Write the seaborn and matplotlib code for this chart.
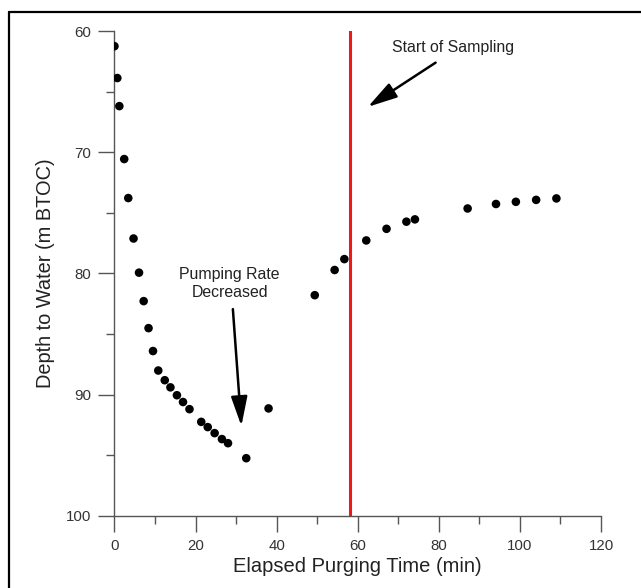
import matplotlib
matplotlib.use("Agg")
import matplotlib.pyplot as plt
import seaborn as sns
import pandas as pd
from matplotlib.ticker import MultipleLocator
from matplotlib.lines import Line2D

# ---- data ----
elapsed_min = [0.0, 0.7, 1.2, 2.4, 3.4, 4.7, 6.05, 7.2, 8.4, 9.5, 10.8, 12.4, 13.8,
               15.4, 16.9, 18.5, 21.4, 23.0, 24.7, 26.5, 28.0, 32.5, 38.0, 49.4,
               54.3, 56.7, 62.1, 67.1, 72.0, 74.1, 87.1, 94.1, 99.0, 104.0, 109.0]
depth_m = [61.24, 63.87, 66.19, 70.56, 73.78, 77.12, 79.94, 82.29, 84.52, 86.41,
           88.02, 88.82, 89.41, 90.06, 90.62, 91.21, 92.26, 92.69, 93.19, 93.68,
           94.02, 95.26, 91.15, 81.80, 79.72, 78.82, 77.28, 76.32, 75.73, 75.54,
           74.64, 74.27, 74.09, 73.93, 73.81]
sampling_start = 58.0
x_ticks = [0, 20, 40, 60, 80, 100, 120]
y_ticks = [60, 70, 80, 90, 100]
x_label = "Elapsed Purging Time (min)"
y_label = "Depth to Water (m BTOC)"
note_sampling = "Start of Sampling"
note_pumping = "Pumping Rate\nDecreased"

df = pd.DataFrame({"t": elapsed_min, "d": depth_m})

sns.set_style("ticks")
plt.rcParams["font.family"] = ["Liberation Sans", "DejaVu Sans"]

fig = plt.figure(figsize=(6.41, 5.88), dpi=100)
ax = fig.add_axes([0.1786, 0.1231, 0.9376 - 0.1786, 0.947 - 0.1231])

sns.scatterplot(data=df, x="t", y="d", ax=ax, color="black", s=38,
                edgecolor="none", zorder=3, legend=False)
ax.axvline(sampling_start, color="#ea1a1a", lw=2.2, zorder=2)

ax.set_xlim(0, 120)
ax.set_ylim(100, 60)
ax.set_xticks(x_ticks)
ax.set_yticks(y_ticks)
ax.xaxis.set_minor_locator(MultipleLocator(10))
ax.yaxis.set_minor_locator(MultipleLocator(5))

gray = "#555555"
for s in ["top", "right"]:
    ax.spines[s].set_visible(False)
for s in ["left", "bottom"]:
    ax.spines[s].set_color(gray)
    ax.spines[s].set_linewidth(1.0)
ax.spines["left"].set_zorder(1)
ax.tick_params(axis="both", which="major", length=11.5, width=1.0, color=gray,
               labelsize=10.8, labelcolor="#333333", direction="out", pad=5)
ax.tick_params(axis="both", which="minor", length=5.5, width=1.0, color=gray,
               direction="out")
ax.set_xlabel(x_label, fontsize=14.5, color="#222222", labelpad=3)
ax.set_ylabel(y_label, fontsize=14.4, color="#222222", labelpad=8)
ax.set_clip_on(False)

arrow_style = dict(arrowstyle="-|>,head_length=0.9,head_width=0.25",
                   mutation_scale=20, lw=1.8, color="black", shrinkA=0, shrinkB=0)
ax.annotate("", xy=(62.5, 66.25), xytext=(79.2, 62.6), arrowprops=arrow_style)
ax.text(83.5, 61.35, note_sampling, fontsize=11.4, color="#222222",
        ha="center", va="center")
ax.annotate("", xy=(31.3, 92.6), xytext=(29.2, 82.95), arrowprops=arrow_style)
ax.text(28.4, 80.8, note_pumping, fontsize=11.4, color="#222222",
        ha="center", va="center", linespacing=1.25)

# outer frame (left and top edges visible in the reference)
fig.add_artist(Line2D([8.5 / 641, 8.5 / 641], [0, 1 - 11.5 / 588],
                      transform=fig.transFigure, color="black", lw=1.6))
fig.add_artist(Line2D([8.5 / 641, 1], [1 - 11.5 / 588, 1 - 11.5 / 588],
                      transform=fig.transFigure, color="black", lw=1.6))

fig.savefig("out.png", dpi=100, facecolor="white")
